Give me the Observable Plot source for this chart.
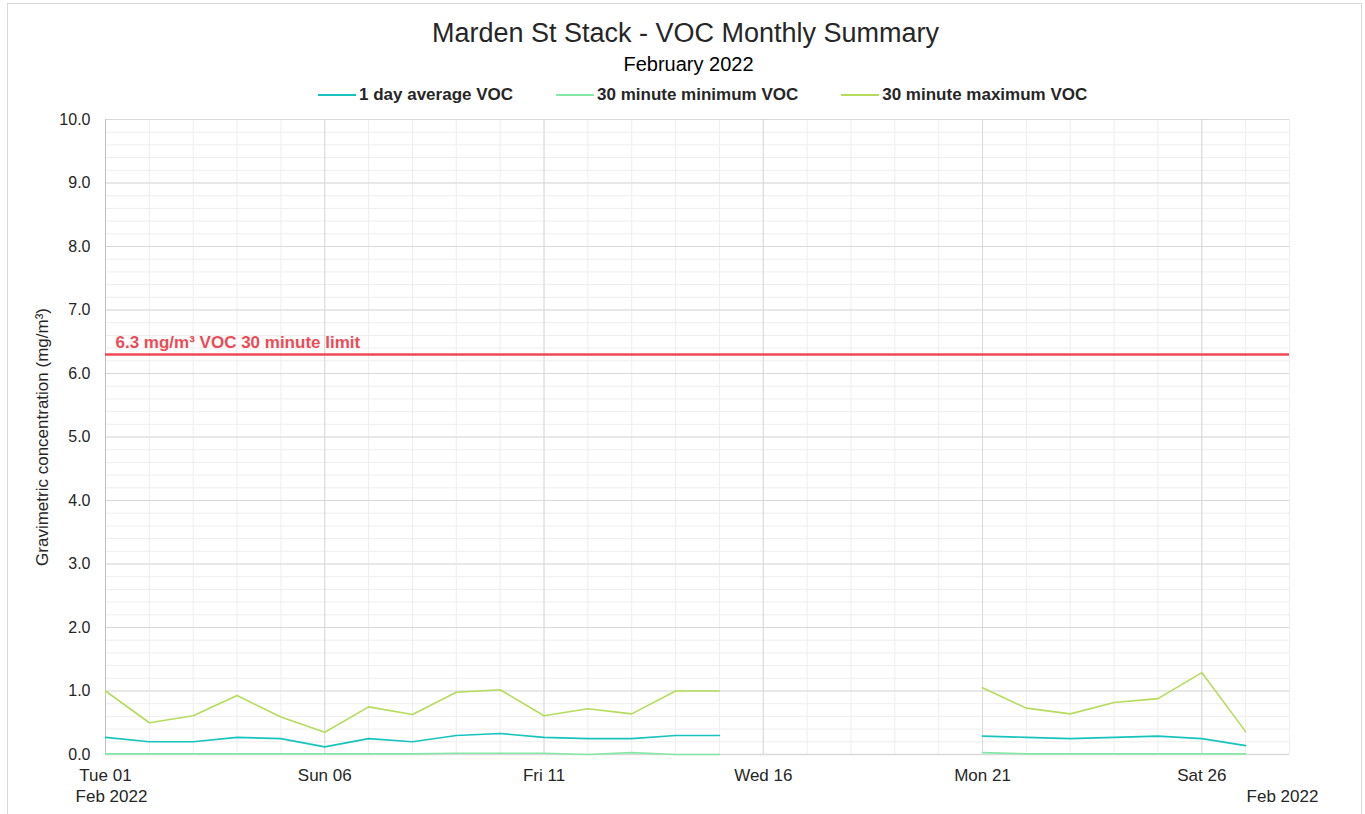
<!DOCTYPE html>
<html>
<head>
<meta charset="utf-8">
<script src="https://cdn.jsdelivr.net/npm/d3@7"></script>
<script src="https://cdn.jsdelivr.net/npm/@observablehq/plot@0.6"></script>
<style>
  html, body { margin: 0; padding: 0; background: #fff; }
  body { font-family: "Liberation Sans", Arial, sans-serif; color: #262626; }
  #wrap { position: relative; width: 1365px; height: 814px; overflow: hidden; }
  #frame { position: absolute; left: 7px; top: 3px; width: 1355px; height: 830px; border: 1px solid #d9d9d9; box-sizing: border-box; }
  #title { position: absolute; left: 0; width: 1371px; top: 16px; text-align: center; font-size: 27px; line-height: 34px; color: #262626; }
  #subtitle { position: absolute; left: 0; width: 1377px; top: 51px; text-align: center; font-size: 20px; line-height: 26px; color: #000; }
  #legend { position: absolute; left: 318px; top: 84px; display: flex; font-size: 17px; font-weight: bold; line-height: 22px; color: #262626; }
  .item { display: flex; align-items: center; }
  .sw { width: 38px; height: 2px; margin-right: 3px; }
  #chart { position: absolute; left: 0; top: 0; }
</style>
</head>
<body>
<div id="wrap">
  <div id="frame"></div>
  <div id="chart"></div>
  <div id="title">Marden St Stack - VOC Monthly Summary</div>
  <div id="subtitle">February 2022</div>
  <div id="legend"></div>
</div>
<script>
// ---- data ----
const dates = [
  "2022-02-01","2022-02-02","2022-02-03","2022-02-04","2022-02-05","2022-02-06","2022-02-07",
  "2022-02-08","2022-02-09","2022-02-10","2022-02-11","2022-02-12","2022-02-13","2022-02-14",
  "2022-02-15","2022-02-16","2022-02-17","2022-02-18","2022-02-19","2022-02-20","2022-02-21",
  "2022-02-22","2022-02-23","2022-02-24","2022-02-25","2022-02-26","2022-02-27"
];
const avgVOC = [0.27,0.20,0.20,0.27,0.25,0.12,0.25,0.20,0.30,0.33,0.27,0.25,0.25,0.30,0.30,
  null,null,null,null,null,0.29,0.27,0.25,0.27,0.29,0.25,0.14];
const minVOC = [0.01,0.01,0.01,0.01,0.01,0.01,0.01,0.01,0.02,0.02,0.02,0.00,0.03,0.00,0.00,
  null,null,null,null,null,0.03,0.01,0.01,0.01,0.01,0.01,0.01];
const maxVOC = [1.00,0.50,0.61,0.93,0.59,0.35,0.75,0.63,0.98,1.02,0.61,0.72,0.64,1.00,1.00,
  null,null,null,null,null,1.05,0.73,0.64,0.82,0.88,1.29,0.36];
const seriesNames = ["1 day average VOC","30 minute minimum VOC","30 minute maximum VOC"];
const seriesColors = ["#17c4bd","#86e8a8","#b5dc5b"];
const limitValue = 6.3;
const limitLabel = "6.3 mg/m³ VOC 30 minute limit";
const yTicks = [0,1,2,3,4,5,6,7,8,9,10];
const xTickDates = ["2022-02-01","2022-02-06","2022-02-11","2022-02-16","2022-02-21","2022-02-26"];
const xDomain = ["2022-02-01","2022-02-28"];
const monthLabelStart = "2022-02-01";
const monthLabelEnd = "2022-02-28";
const monthLabel = "Feb 2022";
const yLabel = "Gravimetric concentration (mg/m³)";

// ---- build ----
const parse = d3.utcParse("%Y-%m-%d");
const allDays = d3.utcDays(parse(xDomain[0]), d3.utcDay.offset(parse(xDomain[1]), 1));
const rows = [];
[avgVOC, minVOC, maxVOC].forEach((vals, i) => {
  dates.forEach((d, j) => rows.push({date: parse(d), value: vals[j] == null ? NaN : vals[j], series: seriesNames[i]}));
});
const minorY = d3.range(0, 50).map(i => i * 0.2).concat([10]);

const plot = Plot.plot({
  width: 1365,
  height: 814,
  marginLeft: 105,
  marginRight: 76,
  marginTop: 119,
  marginBottom: 60,
  style: {fontFamily: "'Liberation Sans', Arial, sans-serif", fontSize: "15px", color: "#404040", background: "transparent"},
  x: {type: "utc", domain: xDomain.map(parse)},
  y: {domain: [0, 10]},
  color: {domain: seriesNames, range: seriesColors},
  marks: [
    Plot.gridY(minorY, {stroke: "#eeeeee", strokeOpacity: 1}),
    Plot.gridX(allDays, {stroke: "#eeeeee", strokeOpacity: 1}),
    Plot.gridY(yTicks, {stroke: "#d9d9d9", strokeOpacity: 1}),
    Plot.gridX(xTickDates.map(parse), {stroke: "#d9d9d9", strokeOpacity: 1}),
    Plot.ruleX([parse(xDomain[0])], {stroke: "#bfbfbf"}),
    Plot.ruleY([0], {stroke: "#d9d9d9", strokeWidth: 1.5}),
    Plot.line(rows, {x: "date", y: "value", z: "series", stroke: "series", strokeWidth: 1.6}),
    Plot.ruleY([limitValue], {stroke: "#ee4a55", strokeWidth: 2.5}),
    Plot.text([limitLabel], {x: parse(xDomain[0]), y: limitValue, text: d => d, textAnchor: "start", dx: 10, dy: -12,
      fill: "#ee4a55", fontWeight: "bold", fontSize: 17}),
    Plot.axisY({ticks: yTicks, tickFormat: d3.format(".1f"), tickSize: 0, tickPadding: 15, fontSize: 16,
      label: yLabel, labelAnchor: "center", labelArrow: "none", labelOffset: 70, color: "#262626"}),
    Plot.axisX({ticks: xTickDates.map(parse), tickFormat: d3.utcFormat("%a %d"), tickSize: 0, tickPadding: 14, fontSize: 17, label: null, color: "#262626"}),
    Plot.text([parse(monthLabelStart)], {x: d => d, frameAnchor: "bottom", text: () => monthLabel, dx: 6, dy: 47, fontSize: 17, fill: "#262626"}),
    Plot.text([parse(monthLabelEnd)], {x: d => d, frameAnchor: "bottom", text: () => monthLabel, dx: -7, dy: 47, fontSize: 17, fill: "#262626"})
  ]
});
document.getElementById("chart").appendChild(plot);
// enlarge y-axis label font
plot.querySelectorAll("g[aria-label='y-axis label'] text, g[aria-label='y-axis label']").forEach(el => el.setAttribute("font-size", "17"));

const legend = document.getElementById("legend");
seriesNames.forEach((n, i) => {
  const it = document.createElement("div");
  it.className = "item";
  it.style.marginRight = i < 2 ? "43px" : "0";
  const sw = document.createElement("div");
  sw.className = "sw";
  sw.style.background = seriesColors[i];
  it.appendChild(sw);
  const t = document.createElement("span");
  t.textContent = n;
  it.appendChild(t);
  legend.appendChild(it);
});
</script>
</body>
</html>
